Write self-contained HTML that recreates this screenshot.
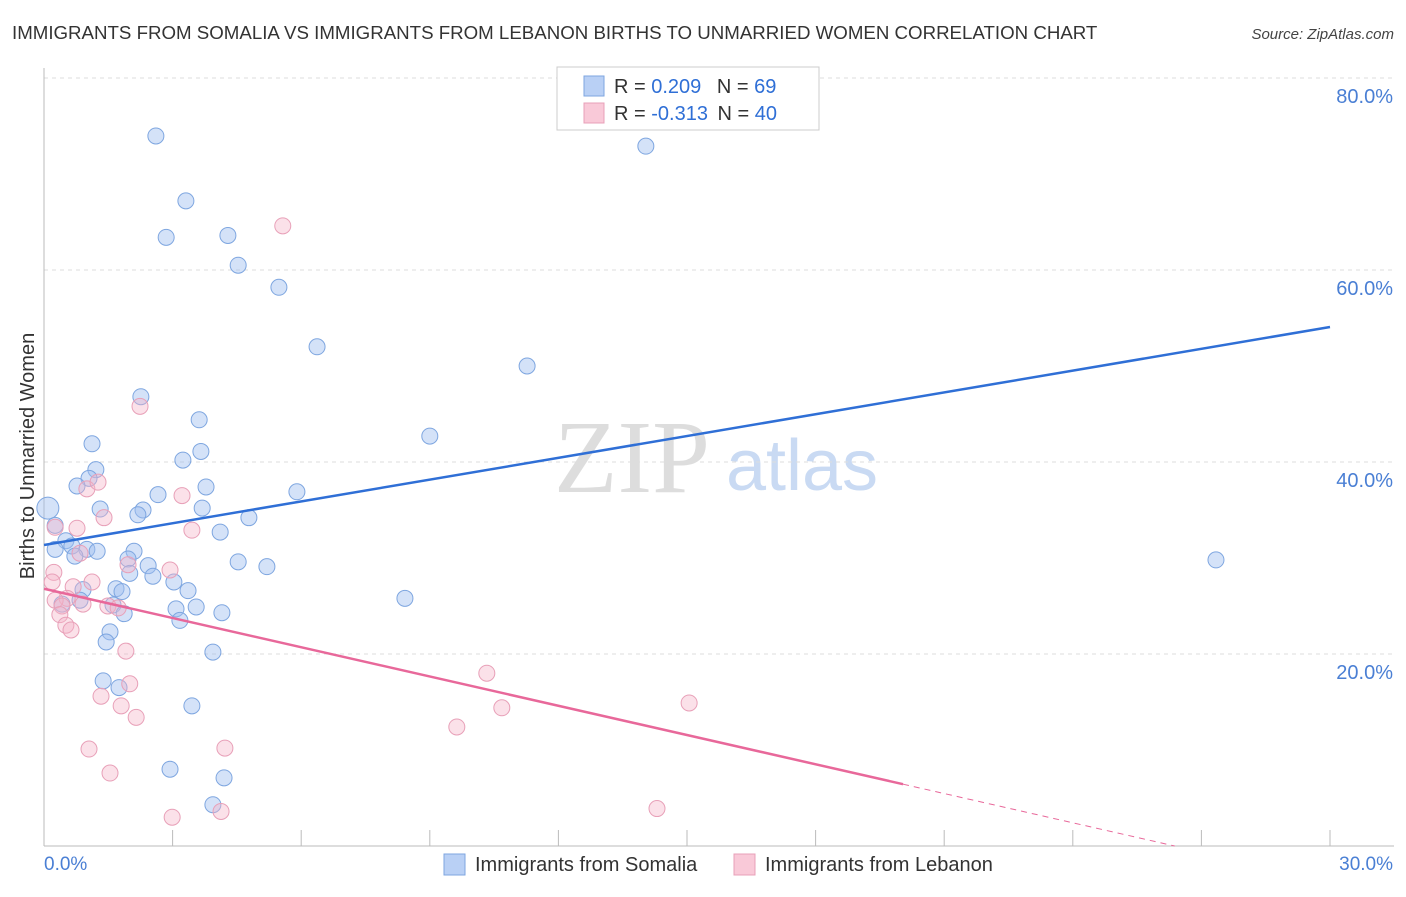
<!DOCTYPE html>
<html><head><meta charset="utf-8"><style>
body{margin:0;background:#fff;font-family:"Liberation Sans",sans-serif}
</style></head><body>
<svg id="chart" width="1406" height="892" xmlns="http://www.w3.org/2000/svg" font-family="Liberation Sans, sans-serif">
<text x="12" y="39" font-size="18.7" fill="#333">IMMIGRANTS FROM SOMALIA VS IMMIGRANTS FROM LEBANON BIRTHS TO UNMARRIED WOMEN CORRELATION CHART</text>
<text x="1394" y="39" font-size="15" fill="#444" text-anchor="end" font-style="italic">Source: ZipAtlas.com</text>
<g>
<text x="632" y="492" font-size="104" fill="#ddd" font-family="Liberation Serif, serif" text-anchor="middle">ZIP</text>
<text x="802" y="490" font-size="72" fill="#c9daf3" text-anchor="middle">atlas</text>
</g>
<g id="grid"></g>
<g id="axes"></g>
<g id="marks"></g>
<text transform="translate(34,456) rotate(-90)" font-size="20" fill="#333" text-anchor="middle">Births to Unmarried Women</text>
<g>
<rect x="557" y="67" width="262" height="63" fill="#fff" stroke="#ccc"/>
<rect x="584" y="76" width="20" height="20" fill="#b9d0f5" stroke="#7ea6e0"/>
<rect x="584" y="103" width="20" height="20" fill="#f9c9d8" stroke="#e8a0b8"/>
<text x="614" y="93" font-size="20" fill="#333">R = <tspan fill="#2f6fd6">0.209</tspan>  <tspan dx="10">N = </tspan><tspan fill="#2f6fd6">69</tspan></text>
<text x="614" y="120" font-size="20" fill="#333">R = <tspan fill="#2f6fd6">-0.313</tspan>  <tspan dx="4">N = </tspan><tspan fill="#2f6fd6">40</tspan></text>
</g>
<g>
<rect x="444" y="854" width="21" height="21" fill="#b9d0f5" stroke="#7ea6e0"/>
<text x="475" y="871" font-size="20" fill="#333">Immigrants from Somalia</text>
<rect x="734" y="854" width="21" height="21" fill="#f9c9d8" stroke="#e8a0b8"/>
<text x="765" y="871" font-size="20" fill="#333">Immigrants from Lebanon</text>
</g>
</svg>
<script>
const yTicks=[20,40,60,80];
const yTickLabels=["20.0%","40.0%","60.0%","80.0%"];
const xTicks=[0,3,6,9,12,15,18,21,24,27,30];
const somaliaX=[2.61,14.04,3.31,2.85,4.29,4.53,5.48,6.37,11.27,2.26,3.62,9.0,1.12,3.66,3.24,1.21,1.05,0.77,3.78,2.66,5.9,1.31,2.31,2.19,3.69,0.09,4.78,0.26,4.11,0.51,0.26,0.65,1.0,1.24,0.72,2.1,1.96,4.53,2.43,5.2,2.0,2.54,3.03,0.91,1.68,1.82,3.36,27.34,8.42,0.84,0.42,1.61,3.08,3.55,1.87,4.15,3.17,1.54,1.45,3.94,1.38,1.75,3.45,2.94,4.2,3.94];
const somaliaY=[73.96,72.9,67.2,63.4,63.6,60.5,58.2,52.0,50.0,46.8,44.4,42.7,41.9,41.1,40.2,39.2,38.3,37.5,37.4,36.6,36.9,35.1,35.0,34.5,35.2,35.2,34.2,33.4,32.7,31.8,30.9,31.25,30.9,30.7,30.2,30.7,29.9,29.6,29.2,29.1,28.4,28.1,27.5,26.7,26.8,26.5,26.6,29.8,25.8,25.6,25.2,25.1,24.7,24.9,24.2,24.3,23.5,22.3,21.25,20.2,17.2,16.5,14.6,8.0,7.1,4.3];
const lebanonX=[5.57,2.24,1.0,1.26,3.22,1.4,0.77,0.26,3.45,0.84,1.96,2.94,0.23,0.19,1.12,0.68,0.54,0.26,0.91,0.42,1.49,1.73,0.37,0.51,0.63,1.91,10.33,2.0,1.33,1.8,10.68,15.05,2.15,9.63,1.05,4.22,1.54,2.99,4.13,14.3];
const lebanonY=[64.6,45.8,37.2,37.9,36.5,34.2,33.1,33.2,32.9,30.5,29.3,28.75,28.5,27.5,27.5,27.0,25.8,25.6,25.2,25.0,25.0,24.8,24.1,23.0,22.5,20.3,18.0,16.9,15.6,14.6,14.4,14.9,13.4,12.4,10.1,10.2,7.6,3.0,3.6,3.9];
const somaliaTrend=[31.35,54.06];
const lebanonTrend=[26.8,-3.68];
const lebanonSolidEnd=20.04;
const X=v=>44+v*(1330-44)/30, Y=v=>846-v*9.6;
const NS="http://www.w3.org/2000/svg";
function mk(tag,attrs,parent){const e=document.createElementNS(NS,tag);for(const k in attrs)e.setAttribute(k,attrs[k]);document.getElementById(parent).appendChild(e);return e;}
yTicks.forEach((t,i)=>{
 const l=mk('line',{x1:44,x2:1394,y1:Y(t),y2:Y(t),stroke:'#ddd','stroke-dasharray':'4,4'},'grid');
 
 
 const tx=mk('text',{x:1393,y:Y(t)+25,'font-size':20,fill:'#4a7fd4','text-anchor':'end'},'grid');tx.textContent=yTickLabels[i];
 
 
});
const ax=mk('line',{x1:44,x2:1394,y1:846,y2:846,stroke:'#bbb'},'axes');


const ay=mk('line',{x1:44,x2:44,y1:68,y2:846,stroke:'#bbb'},'axes');


xTicks.forEach(t=>{const l=mk('line',{x1:X(t),x2:X(t),y1:830,y2:846,stroke:'#bbb'},'axes');
 
 });
const xl0=mk('text',{x:44,y:870,'font-size':19,fill:'#4a7fd4'},'axes');xl0.textContent='0.0%';


const xl1=mk('text',{x:1393,y:870,'font-size':19,fill:'#4a7fd4','text-anchor':'end'},'axes');xl1.textContent='30.0%';


somaliaX.forEach((x,i)=>{const c=mk('circle',{cx:X(x),cy:Y(somaliaY[i]),r:i==25?11:8,fill:'rgba(160,190,240,0.45)',stroke:'#7ea6e0','stroke-width':1},'marks');
 
 });
lebanonX.forEach((x,i)=>{const c=mk('circle',{cx:X(x),cy:Y(lebanonY[i]),r:8,fill:'rgba(245,180,200,0.4)',stroke:'#e8a0b8','stroke-width':1},'marks');
 
 });
const bt=mk('line',{x1:X(0),y1:Y(somaliaTrend[0]),x2:X(30),y2:Y(somaliaTrend[1]),stroke:'#2f6fd6','stroke-width':2.5},'marks');


const lv=x=>lebanonTrend[0]+(lebanonTrend[1]-lebanonTrend[0])*x/30;
const pt=mk('line',{x1:X(0),y1:Y(lv(0)),x2:X(lebanonSolidEnd),y2:Y(lv(lebanonSolidEnd)),stroke:'#e8689a','stroke-width':2.5},'marks');


const zx=-lebanonTrend[0]*30/(lebanonTrend[1]-lebanonTrend[0]);
const pd=mk('line',{x1:X(lebanonSolidEnd),y1:Y(lv(lebanonSolidEnd)),x2:X(zx),y2:Y(0),stroke:'#e8689a','stroke-width':1,'stroke-dasharray':'6,5'},'marks');


</script>
</body></html>
